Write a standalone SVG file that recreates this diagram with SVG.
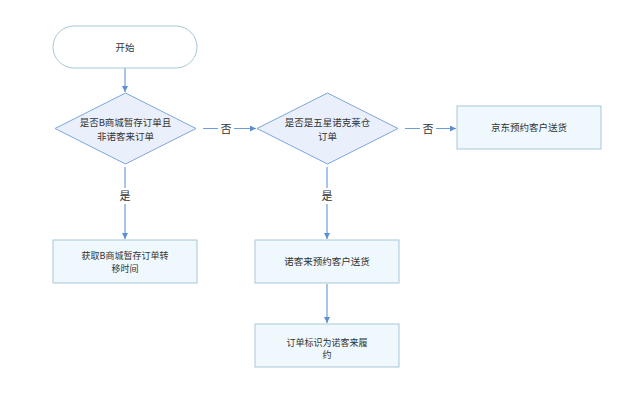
<svg xmlns="http://www.w3.org/2000/svg" width="640" height="406" viewBox="0 0 640 406">
<defs>
<marker id="ah" markerWidth="8" markerHeight="8" refX="6" refY="3" orient="auto" markerUnits="userSpaceOnUse">
<path d="M0,0 L6,3 L0,6 Z" fill="#5b8fd6"/>
</marker>
<style>
.t{font-family:"Noto Sans CJK SC","Liberation Sans",sans-serif;font-size:9.5px;fill:#333;text-anchor:middle}
.s{font-family:"Noto Sans CJK SC","Liberation Sans",sans-serif;font-size:9px;fill:#333;text-anchor:middle}
.l{font-family:"Noto Sans CJK SC","Liberation Sans",sans-serif;font-size:11px;fill:#333;text-anchor:middle}
.box{fill:#eef8fd;stroke:#a9c7d8;stroke-width:1}
.dia{fill:#e9effb;stroke:#7ea6dc;stroke-width:1}
.term{fill:#fff;stroke:#a9c7d8;stroke-width:1}
.c{stroke:#6b9fdc;stroke-width:1.2;fill:none;marker-end:url(#ah)}
</style>
</defs>
<rect width="640" height="406" fill="#fff"/>
<g id="connectors">
<line class="c" x1="125" y1="68" x2="125" y2="92"/>
<line class="c" x1="203" y1="128.5" x2="256" y2="128.5"/>
<line class="c" x1="405" y1="128.5" x2="456" y2="128.5"/>
<line class="c" x1="125" y1="167" x2="125" y2="239"/>
<line class="c" x1="327" y1="167" x2="327" y2="239"/>
<line class="c" x1="327" y1="284" x2="327" y2="323"/>
<rect x="218" y="120" width="16" height="16" fill="#fff"/>
<text class="l" x="226" y="132.5">否</text>
<rect x="420" y="120" width="16" height="16" fill="#fff"/>
<text class="l" x="428" y="132.5">否</text>
<rect x="117" y="188" width="16" height="16" fill="#fff"/>
<text class="l" x="125" y="200">是</text>
<rect x="319" y="188" width="16" height="16" fill="#fff"/>
<text class="l" x="327" y="200">是</text>
</g>
<g id="start">
<rect class="term" x="53" y="26" width="144" height="42" rx="21"/>
<text class="t" x="125" y="51">开始</text>
</g>
<g id="d1">
<polygon class="dia" points="125.5,93 196,128.5 125.5,164 55,128.5"/>
<text class="t" x="125.5" y="125.5">是否B商城暂存订单且</text>
<text class="t" x="125.5" y="139.5">非诺客来订单</text>
</g>
<g id="d2">
<polygon class="dia" points="327.5,93 398,128.5 327.5,164 257,128.5"/>
<text class="t" x="327.5" y="125.5">是否是五星诺克莱仓</text>
<text class="t" x="327.5" y="139.5">订单</text>
</g>
<g id="jd">
<rect class="box" x="457" y="106" width="144" height="43"/>
<text class="t" x="529" y="131">京东预约客户送货</text>
</g>
<g id="b4">
<rect class="box" x="53" y="240" width="144" height="43"/>
<text class="s" x="125" y="259">获取B商城暂存订单转</text>
<text class="s" x="125" y="271.5">移时间</text>
</g>
<g id="b5">
<rect class="box" x="255" y="240" width="144" height="43"/>
<text class="t" x="327" y="265">诺客来预约客户送货</text>
</g>
<g id="b6">
<rect class="box" x="255" y="324" width="144" height="43"/>
<text class="s" x="327" y="345.5">订单标识为诺客来履</text>
<text class="s" x="327" y="358">约</text>
</g>
</svg>
